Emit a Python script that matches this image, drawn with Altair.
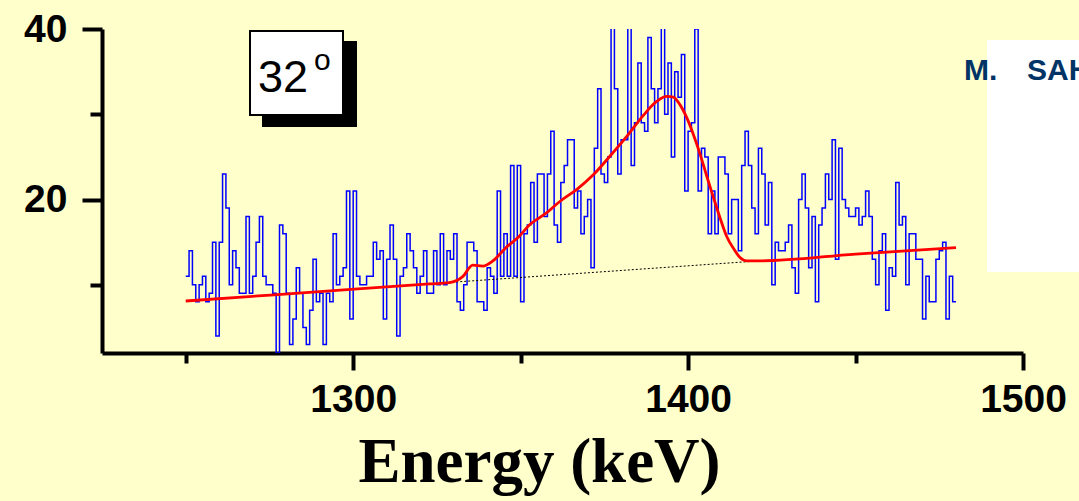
import altair as alt
import pandas as pd

# ---- data ----
bin_start = 1250          # first bin edge (keV), 1 keV bins
counts = [
    11, 14, 10, 8, 10, 11, 8, 9, 15, 4,
    15, 23, 19, 10, 14, 12, 9, 9, 18, 9,
    11, 15, 18, 11, 10, 10, 9, 2, 17, 16,
    9, 3, 6, 12, 9, 5, 3, 7, 13, 8,
    9, 3, 9, 8, 16, 10, 11, 12, 21, 6,
    21, 11, 10, 10, 11, 11, 15, 13, 14, 6,
    13, 17, 13, 4, 11, 12, 16, 14, 12, 9,
    11, 14, 9, 9, 14, 10, 16, 10, 14, 13,
    16, 8, 7, 10, 15, 15, 14, 8, 8, 7,
    12, 11, 9, 21, 11, 16, 11, 24, 11, 24,
    8, 16, 17, 22, 15, 23, 23, 18, 23, 28,
    17, 15, 22, 24, 27, 27, 19, 21, 16, 18,
    20, 12, 26, 33, 23, 22, 25, 42, 33, 23,
    27, 27, 42, 24, 29, 36, 29, 28, 39, 33,
    29, 33, 42, 30, 36, 25, 35, 32, 37, 21,
    28, 29, 40, 21, 26, 25, 16, 21, 16, 25,
    25, 23, 16, 20, 20, 14, 24, 28, 24, 19,
    16, 26, 23, 17, 22, 10, 15, 14, 14, 15,
    17, 12, 9, 20, 23, 19, 12, 18, 8, 17,
    19, 23, 20, 27, 13, 26, 20, 19, 18, 18,
    19, 17, 18, 21, 18, 13, 10, 14, 16, 7,
    12, 11, 22, 17, 18, 10, 16, 16, 13, 13,
    6, 11, 8, 8, 13, 14, 15, 6, 11, 8,
]

fit_energy = [1250, 1290, 1322.8, 1328.7, 1332.7, 1335.7, 1338.7, 1341.7, 1345.6,
              1349.6, 1352.6, 1357.6, 1361.8, 1366.8, 1371.7, 1376.7, 1381.7,
              1386.7, 1390.6, 1393.6, 1395.6, 1397.6, 1399.6, 1401.6, 1403.6,
              1405.6, 1407.6, 1409.5, 1411.5, 1413.5, 1415.5, 1417.5, 1421.5,
              1450, 1480]
fit_counts = [8.1, 9.2, 10.1, 10.25, 10.95, 12.3, 12.2, 12.8, 14.35,
              15.7, 17.0, 18.4, 19.8, 21.2, 22.9, 25.1, 27.4,
              29.9, 31.5, 32.1, 32.0, 31.1, 29.6, 27.6, 25.3,
              22.7, 20.2, 17.9, 15.7, 14.3, 13.2, 12.8, 12.8,
              13.6, 14.35]

bg_energy = [1326, 1421]
bg_counts = [10.2, 12.8]

x_ticks = [1250, 1300, 1350, 1400, 1450, 1500]
y_ticks = [10, 20, 30, 40]

# ---- tables ----
edges = [bin_start + i for i in range(len(counts) + 1)]
hist = pd.DataFrame({"energy": edges, "counts": counts + [counts[-1]]})
fit = pd.DataFrame({"energy": fit_energy, "counts": fit_counts})
bg = pd.DataFrame({"energy": bg_energy, "counts": bg_counts})
one = pd.DataFrame({"a": [0]})

W, H = 921, 324
LABEL_FONT = "Liberation Sans"

xscale = alt.Scale(domain=[1225, 1500], nice=False, zero=False)
yscale = alt.Scale(domain=[2, 40], nice=False, zero=False)

xaxis = alt.Axis(
    values=x_ticks, format="d",
    labelExpr="datum.value % 100 === 0 ? datum.label : ''",
    tickSize={"condition": {"test": "datum.value % 100 === 0", "value": 17}, "value": 10},
    tickWidth=4, tickColor="black", domainWidth=4, domainColor="black",
    labelFont=LABEL_FONT, labelFontSize=39, labelFontWeight="bold", labelColor="black",
    labelPadding=10, labelFlush=False, labelOverlap=False, grid=False,
    title="Energy (keV)", titleFont="Liberation Serif", titleFontSize=63,
    titleFontWeight="bold", titleColor="black", titleX=437, titleY=128,
    titleAlign="center", titleBaseline="alphabetic",
)
yaxis = alt.Axis(
    values=y_ticks,
    labelExpr="datum.value % 20 === 0 ? datum.label : ''",
    tickSize={"condition": {"test": "datum.value % 20 === 0", "value": 20}, "value": 12},
    tickWidth=4, tickColor="black", domainWidth=4, domainColor="black",
    labelFont=LABEL_FONT, labelFontSize=39, labelFontWeight="bold", labelColor="black",
    labelPadding=15, labelFlush=False, labelOverlap=False, grid=False, title=None,
)

hist_line = alt.Chart(hist).mark_line(
    interpolate="step-after", color="#0000FF", strokeWidth=1.5, clip=True
).encode(
    x=alt.X("energy:Q", scale=xscale, axis=xaxis),
    y=alt.Y("counts:Q", scale=yscale, axis=yaxis),
)

bg_line = alt.Chart(bg).mark_line(
    color="black", strokeWidth=1, strokeDash=[2, 2]
).encode(x="energy:Q", y="counts:Q")

fit_line = alt.Chart(fit).mark_line(
    color="#FF0000", strokeWidth=2.8, interpolate="monotone"
).encode(x="energy:Q", y="counts:Q")

# ---- annotations (pixel positions relative to plot origin) ----
shadow = alt.Chart(one).mark_rect(color="black").encode(
    x=alt.value(160), x2=alt.value(255), y=alt.value(12), y2=alt.value(98))
box = alt.Chart(one).mark_rect(fill="white", stroke="black", strokeWidth=2).encode(
    x=alt.value(148), x2=alt.value(241), y=alt.value(2), y2=alt.value(86))
t32 = alt.Chart(one).mark_text(
    text="32", font=LABEL_FONT, fontSize=45, align="left", baseline="alphabetic",
    color="black").encode(x=alt.value(156), y=alt.value(63))
tdeg = alt.Chart(one).mark_text(
    text="o", font=LABEL_FONT, fontSize=30, align="left", baseline="alphabetic",
    color="black").encode(x=alt.value(212), y=alt.value(41))

white_panel = alt.Chart(one).mark_rect(fill="white").encode(
    x=alt.value(885), x2=alt.value(980), y=alt.value(11), y2=alt.value(243))
t_m = alt.Chart(one).mark_text(
    text="M.", font=LABEL_FONT, fontSize=30, fontWeight="bold", align="left",
    baseline="alphabetic", color="#003366").encode(x=alt.value(862), y=alt.value(51))
t_sah = alt.Chart(one).mark_text(
    text="SAH", font=LABEL_FONT, fontSize=30, fontWeight="bold", align="left",
    baseline="alphabetic", color="#003366").encode(x=alt.value(925), y=alt.value(51))

chart = alt.layer(
    hist_line, bg_line, fit_line, shadow, box, t32, tdeg, white_panel, t_m, t_sah
).properties(
    width=W, height=H,
    padding={"left": 102, "top": 29, "right": 56, "bottom": 148},
    autosize=alt.AutoSizeParams(type="none"),
    background="#FFFFCC",
).configure_view(strokeWidth=0)

chart.save("out.html", embed_options={"renderer": "svg", "actions": False})
